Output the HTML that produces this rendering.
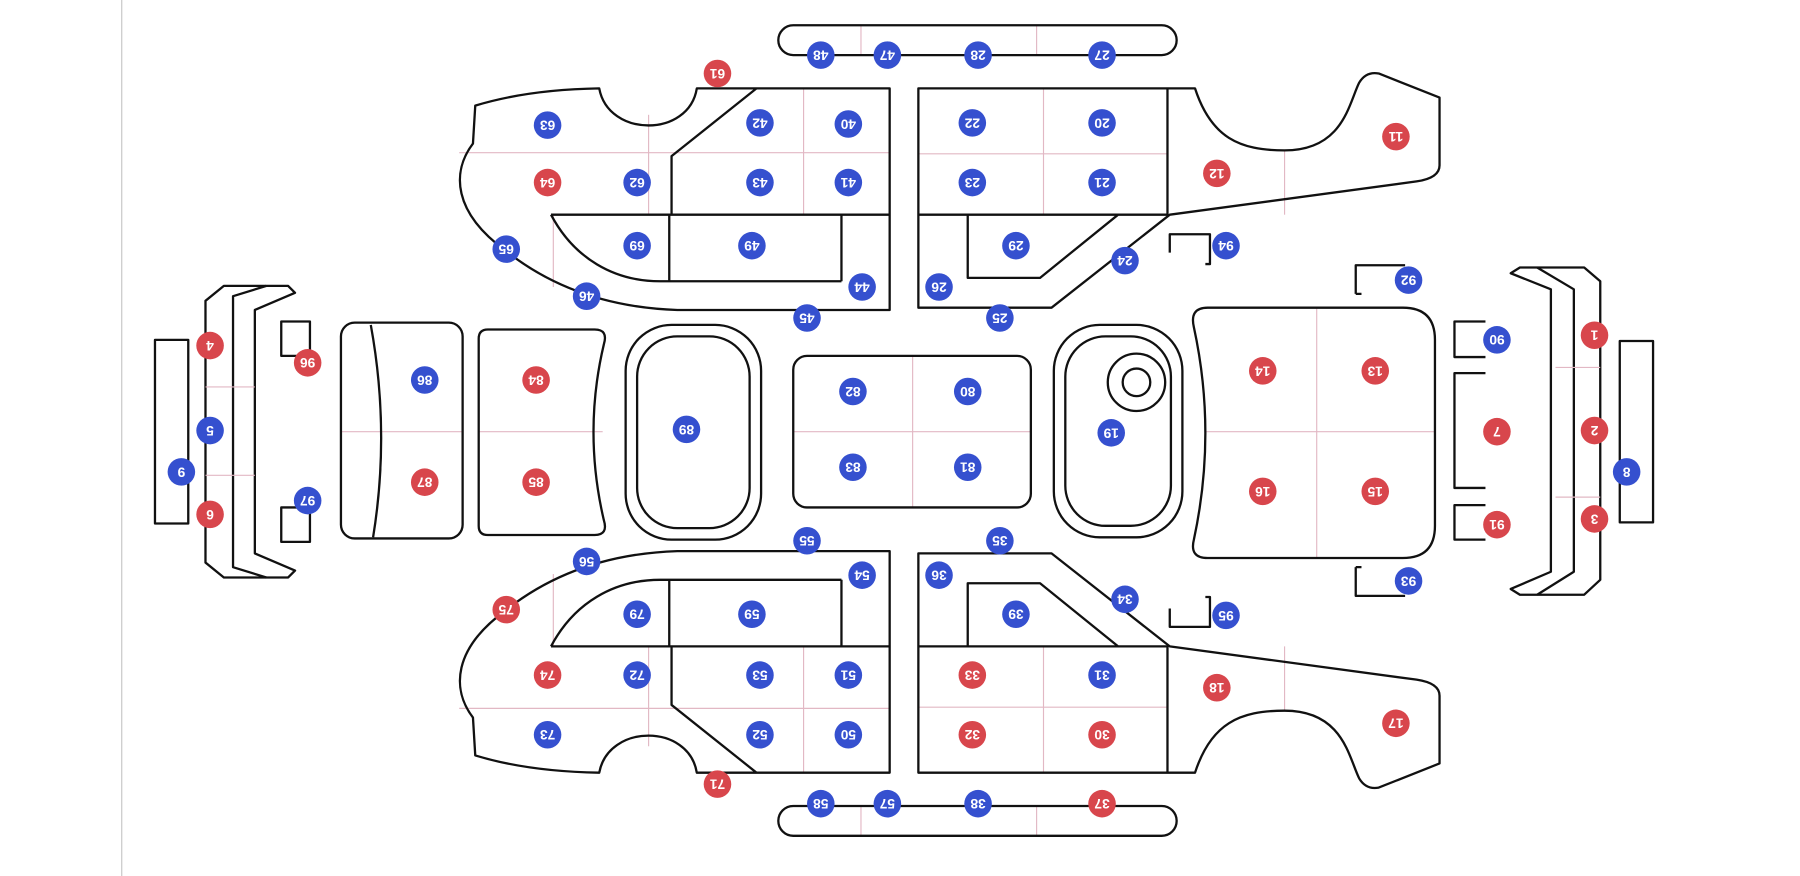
<!DOCTYPE html>
<html><head><meta charset="utf-8"><style>
html,body{margin:0;padding:0;background:#fff;width:1800px;height:876px;overflow:hidden}
svg{display:block}
.o{fill:none;stroke:#111;stroke-width:2;stroke-linejoin:round}
.p{fill:none;stroke:#e2b8c4;stroke-width:1}
.b{fill:#3550cf}.r{fill:#d8464c}
text{font-family:"Liberation Sans",sans-serif;font-weight:bold;font-size:12px;fill:#fff;text-anchor:middle}
</style></head><body>
<svg width="1800" height="876" viewBox="0 0 1568 763" preserveAspectRatio="none">
<line x1="106" y1="0" x2="106" y2="763" stroke="#cfcfcf" stroke-width="1.2"/>
<g id="up">
<line class="p" x1="750" y1="22" x2="750" y2="48"/><line class="p" x1="903" y1="22" x2="903" y2="48"/>
<rect class="o" x="678" y="22" width="347" height="26" rx="13"/>
<line class="p" x1="565" y1="100" x2="565" y2="187"/><line class="p" x1="700" y1="77" x2="700" y2="187"/>
<line class="p" x1="482" y1="187" x2="482" y2="250"/><line class="p" x1="400" y1="133" x2="775" y2="133"/>
<line class="p" x1="909" y1="77" x2="909" y2="187"/><line class="p" x1="1119" y1="131" x2="1119" y2="187"/>
<line class="p" x1="800" y1="134" x2="1017" y2="134"/>
<path class="o" d="M775,77 L607,77 C600,120 530,120 522,77 Q460,78 414,92 L412,125 C393,150 395,185 440,218 C480,250 530,268 590,270 L775,270 Z"/>
<path class="o" d="M480,187 H775 M583,187 V245 M733,187 V245 M575,245 H733 M480,187 C500,225 535,245 575,245 M659,77 L585,136 V187"/>
<path class="o" d="M800,77 H1041 C1055,120 1080,131 1119,131 C1170,131 1175,90 1184,72 Q1190,62 1201,64 L1254,85 V144 Q1254,155 1234,158 L1019,187 L916,268 H800 Z"/>
<path class="o" d="M1017,77 V187 H800 M843,187 V242 H906 L974,187"/>
<path class="o" d="M1019,220 V204 H1054 V230 H1050"/>
<path class="o" d="M1181,256 V231 H1224 M1181,256 H1186"/>
</g>
<use href="#up" transform="translate(0,750) scale(1,-1)"/>
<!-- right brackets -->
<path class="o" d="M1316,238 L1324,233 H1380 L1394,245 V505 L1380,518 H1324 L1316,513 L1351,498 V252 Z"/>
<path class="o" d="M1339,233 L1371,252 V498 L1339,518"/>
<line class="p" x1="1355" y1="320" x2="1394" y2="320"/><line class="p" x1="1355" y1="433" x2="1394" y2="433"/>
<rect class="o" x="1411" y="297" width="29" height="158"/>
<path class="o" d="M1294,280 H1267 V311 H1294"/>
<path class="o" d="M1294,325 H1267 V425 H1294"/>
<path class="o" d="M1294,440 H1267 V470 H1294"/>
<!-- left brackets -->
<path class="o" d="M257,255 L251,249 H195 L179,262 V490 L195,503 H251 L257,497 L222,482 V270 Z"/>
<path class="o" d="M232,249 L203,258 V494 L232,503"/>
<line class="p" x1="179" y1="337" x2="222" y2="337"/><line class="p" x1="179" y1="414" x2="222" y2="414"/>
<rect class="o" x="135" y="296" width="29" height="160"/>
<path class="o" d="M245,280 H270 V310 H245 Z"/>
<path class="o" d="M245,442 H270 V472 H245 Z"/>
<!-- middle parts -->
<line class="p" x1="297" y1="376" x2="403" y2="376"/>
<rect class="o" x="297" y="281" width="106" height="188" rx="12"/>
<path class="o" d="M323,283 Q340,376 325,468"/>
<line class="p" x1="417" y1="376" x2="525" y2="376"/>
<path class="o" d="M425,287 H518 Q530,287 526,300 Q508,376 526,453 Q530,466 518,466 H425 Q417,466 417,458 V295 Q417,287 425,287 Z"/>
<rect class="o" x="545" y="283" width="118" height="187" rx="40"/>
<rect class="o" x="555" y="293" width="98" height="167" rx="35"/>
<line class="p" x1="795" y1="310" x2="795" y2="442"/><line class="p" x1="691" y1="376" x2="898" y2="376"/>
<rect class="o" x="691" y="310" width="207" height="132" rx="12"/>
<rect class="o" x="918" y="283" width="112" height="185" rx="40"/>
<rect class="o" x="928" y="293" width="92" height="165" rx="35"/>
<circle class="o" cx="990" cy="333" r="25"/><circle class="o" cx="990" cy="333" r="12"/>
<line class="p" x1="1147" y1="268" x2="1147" y2="486"/><line class="p" x1="1050" y1="376" x2="1250" y2="376"/>
<path class="o" d="M1052,268 H1222 Q1250,268 1250,296 V458 Q1250,486 1222,486 H1052 Q1036,486 1040,470 Q1060,377 1040,285 Q1036,268 1052,268 Z"/>
<!-- markers -->
<g>
<circle class="b" cx="715" cy="48" r="12"/><circle class="b" cx="773" cy="48" r="12"/><circle class="b" cx="852" cy="48" r="12"/><circle class="b" cx="960" cy="48" r="12"/>
<circle class="r" cx="625" cy="64" r="12"/>
<circle class="b" cx="477" cy="109" r="12"/><circle class="b" cx="662" cy="107" r="12"/><circle class="b" cx="739" cy="108" r="12"/>
<circle class="r" cx="477" cy="159" r="12"/><circle class="b" cx="555" cy="159" r="12"/><circle class="b" cx="662" cy="159" r="12"/><circle class="b" cx="739" cy="159" r="12"/>
<circle class="b" cx="441" cy="217" r="12"/><circle class="b" cx="555" cy="214" r="12"/><circle class="b" cx="655" cy="214" r="12"/><circle class="b" cx="751" cy="250" r="12"/><circle class="b" cx="511" cy="258" r="12"/><circle class="b" cx="703" cy="277" r="12"/>
<circle class="b" cx="847" cy="107" r="12"/><circle class="b" cx="960" cy="107" r="12"/><circle class="b" cx="847" cy="159" r="12"/><circle class="b" cx="960" cy="159" r="12"/>
<circle class="r" cx="1060" cy="151" r="12"/><circle class="r" cx="1216" cy="119" r="12"/>
<circle class="b" cx="885" cy="214" r="12"/><circle class="b" cx="980" cy="227" r="12"/><circle class="b" cx="818" cy="250" r="12"/><circle class="b" cx="871" cy="277" r="12"/>
<circle class="b" cx="1068" cy="214" r="12"/><circle class="b" cx="1227" cy="244" r="12"/>
<circle class="r" cx="183" cy="301" r="12"/><circle class="r" cx="268" cy="316" r="12"/><circle class="b" cx="370" cy="331" r="12"/><circle class="r" cx="467" cy="331" r="12"/>
<circle class="b" cx="598" cy="374" r="12"/><circle class="b" cx="743" cy="341" r="12"/><circle class="b" cx="843" cy="341" r="12"/><circle class="b" cx="743" cy="407" r="12"/><circle class="b" cx="843" cy="407" r="12"/>
<circle class="b" cx="968" cy="377" r="12"/>
<circle class="r" cx="1100" cy="323" r="12"/><circle class="r" cx="1198" cy="323" r="12"/><circle class="r" cx="1100" cy="428" r="12"/><circle class="r" cx="1198" cy="428" r="12"/>
<circle class="b" cx="1304" cy="296" r="12"/><circle class="r" cx="1304" cy="376" r="12"/><circle class="r" cx="1304" cy="457" r="12"/>
<circle class="r" cx="1389" cy="292" r="12"/><circle class="r" cx="1389" cy="375" r="12"/><circle class="r" cx="1389" cy="452" r="12"/><circle class="b" cx="1417" cy="411" r="12"/>
<circle class="b" cx="183" cy="375" r="12"/><circle class="b" cx="158" cy="411" r="12"/><circle class="r" cx="183" cy="448" r="12"/><circle class="b" cx="268" cy="436" r="12"/>
<circle class="r" cx="370" cy="420" r="12"/><circle class="r" cx="467" cy="420" r="12"/>
<circle class="b" cx="511" cy="489" r="12"/><circle class="b" cx="703" cy="471" r="12"/><circle class="b" cx="751" cy="501" r="12"/><circle class="r" cx="441" cy="531" r="12"/>
<circle class="b" cx="555" cy="535" r="12"/><circle class="b" cx="655" cy="535" r="12"/>
<circle class="r" cx="477" cy="588" r="12"/><circle class="b" cx="555" cy="588" r="12"/><circle class="b" cx="662" cy="588" r="12"/><circle class="b" cx="739" cy="588" r="12"/>
<circle class="b" cx="477" cy="640" r="12"/><circle class="b" cx="662" cy="640" r="12"/><circle class="b" cx="739" cy="640" r="12"/><circle class="r" cx="625" cy="683" r="12"/>
<circle class="b" cx="818" cy="501" r="12"/><circle class="b" cx="871" cy="471" r="12"/><circle class="b" cx="885" cy="535" r="12"/><circle class="b" cx="980" cy="522" r="12"/>
<circle class="b" cx="1068" cy="536" r="12"/><circle class="b" cx="1227" cy="506" r="12"/>
<circle class="r" cx="847" cy="588" r="12"/><circle class="b" cx="960" cy="588" r="12"/><circle class="r" cx="1060" cy="599" r="12"/>
<circle class="r" cx="847" cy="640" r="12"/><circle class="r" cx="960" cy="640" r="12"/><circle class="r" cx="1216" cy="630" r="12"/>
<circle class="b" cx="715" cy="700" r="12"/><circle class="b" cx="773" cy="700" r="12"/><circle class="b" cx="852" cy="700" r="12"/><circle class="r" cx="960" cy="700" r="12"/>
</g>
<g transform="rotate(180 784 381.5)">
<!-- text positions mirrored: x'=1568-x, y'=763-y+4 -->
<text x="853" y="719">48</text><text x="795" y="719">47</text><text x="716" y="719">28</text><text x="608" y="719">27</text>
<text x="943" y="703">61</text>
<text x="1091" y="658">63</text><text x="906" y="660">42</text><text x="829" y="659">40</text>
<text x="1091" y="608">64</text><text x="1013" y="608">62</text><text x="906" y="608">43</text><text x="829" y="608">41</text>
<text x="1127" y="550">65</text><text x="1013" y="553">69</text><text x="913" y="553">49</text><text x="817" y="517">44</text><text x="1057" y="509">46</text><text x="865" y="490">45</text>
<text x="721" y="660">22</text><text x="608" y="660">20</text><text x="721" y="608">23</text><text x="608" y="608">21</text>
<text x="508" y="616">12</text><text x="352" y="648">11</text>
<text x="683" y="553">29</text><text x="588" y="540">24</text><text x="750" y="517">26</text><text x="697" y="490">25</text>
<text x="500" y="553">94</text><text x="341" y="523">92</text>
<text x="1385" y="466">4</text><text x="1300" y="451">96</text><text x="1198" y="436">86</text><text x="1101" y="436">84</text>
<text x="970" y="393">89</text><text x="825" y="426">82</text><text x="725" y="426">80</text><text x="825" y="360">83</text><text x="725" y="360">81</text>
<text x="600" y="390">19</text>
<text x="468" y="444">14</text><text x="370" y="444">13</text><text x="468" y="339">16</text><text x="370" y="339">15</text>
<text x="264" y="471">90</text><text x="264" y="391">7</text><text x="264" y="310">91</text>
<text x="179" y="475">1</text><text x="179" y="392">2</text><text x="179" y="315">3</text><text x="151" y="356">8</text>
<text x="1385" y="392">5</text><text x="1410" y="356">9</text><text x="1385" y="319">6</text><text x="1300" y="331">97</text>
<text x="1198" y="347">87</text><text x="1101" y="347">85</text>
<text x="1057" y="278">56</text><text x="865" y="296">55</text><text x="817" y="266">54</text><text x="1127" y="236">75</text>
<text x="1013" y="232">79</text><text x="913" y="232">59</text>
<text x="1091" y="179">74</text><text x="1013" y="179">72</text><text x="906" y="179">53</text><text x="829" y="179">51</text>
<text x="1091" y="127">73</text><text x="906" y="127">52</text><text x="829" y="127">50</text><text x="943" y="84">71</text>
<text x="750" y="266">36</text><text x="697" y="296">35</text><text x="683" y="232">39</text><text x="588" y="245">34</text>
<text x="500" y="231">95</text><text x="341" y="261">93</text>
<text x="721" y="179">33</text><text x="608" y="179">31</text><text x="508" y="168">18</text>
<text x="721" y="127">32</text><text x="608" y="127">30</text><text x="352" y="137">17</text>
<text x="853" y="67">58</text><text x="795" y="67">57</text><text x="716" y="67">38</text><text x="608" y="67">37</text>
</g>
</svg>
</body></html>
